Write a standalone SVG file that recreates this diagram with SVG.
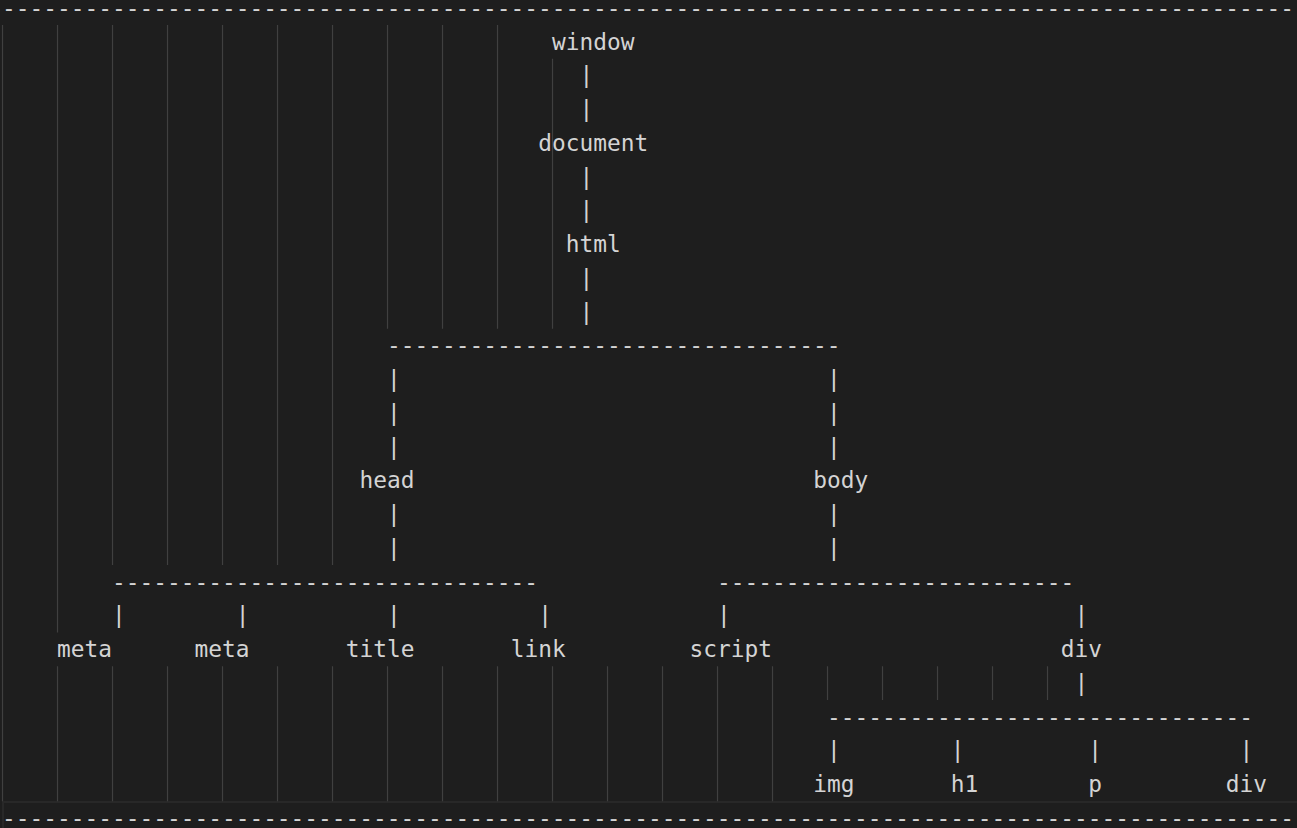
<svg xmlns="http://www.w3.org/2000/svg" width="1297" height="828" viewBox="0 0 1297 828">
<style>
text{font-family:"DejaVu Sans Mono","Liberation Mono",monospace;font-size:22.84px;fill:#d4d4d4;white-space:pre}
.g{stroke:#404040;stroke-width:1.2;fill:none}
.hl{stroke:#282828;stroke-width:2;fill:none}
</style>
<rect x="0" y="0" width="1297" height="828" fill="#1e1e1e"/>
<g id="editor">
<rect class="hl" x="3" y="802" width="1300" height="40"/>
<g id="indent-guides">
<path class="g" d="M2.5 25V801.25M57.5 25V632.5M57.5 666.25V801.25M112.5 25V565M167.5 25V565M222.5 25V565M277.5 25V565M332.5 25V565M112.5 666.25V801.25M167.5 666.25V801.25M222.5 666.25V801.25M277.5 666.25V801.25M332.5 666.25V801.25M387.5 25V328.75M442.5 25V328.75M497.5 25V328.75M387.5 666.25V801.25M442.5 666.25V801.25M497.5 666.25V801.25M552.5 58.75V328.75M552.5 666.25V801.25M607.5 666.25V801.25M662.5 666.25V801.25M717.5 666.25V801.25M772.5 666.25V801.25M827.5 666.25V700M882.5 666.25V700M937.5 666.25V700M992.5 666.25V700M1047.5 666.25V700"/>
</g>
<text x="2" y="15.75">----------------------------------------------------------------------------------------------</text>
<text x="2" y="825.75">----------------------------------------------------------------------------------------------</text>
</g>
<g id="connectors">
<text x="579.5" y="83.25">|</text>
<text x="579.5" y="117">|</text>
<text x="579.5" y="184.5">|</text>
<text x="579.5" y="218.25">|</text>
<text x="579.5" y="285.75">|</text>
<text x="579.5" y="319.5">|</text>
<text x="387" y="353.25">---------------------------------</text>
<text x="387" y="387">|</text><text x="827" y="387">|</text>
<text x="387" y="420.75">|</text><text x="827" y="420.75">|</text>
<text x="387" y="454.5">|</text><text x="827" y="454.5">|</text>
<text x="387" y="522">|</text><text x="827" y="522">|</text>
<text x="387" y="555.75">|</text><text x="827" y="555.75">|</text>
<text x="112" y="589.5">-------------------------------</text>
<text x="717" y="589.5">--------------------------</text>
<text x="112" y="623.25">|</text>
<text x="235.75" y="623.25">|</text>
<text x="387" y="623.25">|</text>
<text x="538.25" y="623.25">|</text>
<text x="717" y="623.25">|</text>
<text x="1074.5" y="623.25">|</text>
<text x="1074.5" y="690.75">|</text>
<text x="827" y="724.5">-------------------------------</text>
<text x="827" y="758.25">|</text>
<text x="950.75" y="758.25">|</text>
<text x="1088.25" y="758.25">|</text>
<text x="1239.5" y="758.25">|</text>
</g>
<g id="node-window"><text x="552" y="49.5">window</text></g>
<g id="node-document"><text x="538.25" y="150.75">document</text></g>
<g id="node-html"><text x="565.75" y="252">html</text></g>
<g id="node-head"><text x="359.5" y="488.25">head</text></g>
<g id="node-body"><text x="813.25" y="488.25">body</text></g>
<g id="node-meta-1"><text x="57" y="657">meta</text></g>
<g id="node-meta-2"><text x="194.5" y="657">meta</text></g>
<g id="node-title"><text x="345.75" y="657">title</text></g>
<g id="node-link"><text x="510.75" y="657">link</text></g>
<g id="node-script"><text x="689.5" y="657">script</text></g>
<g id="node-div-1"><text x="1060.75" y="657">div</text></g>
<g id="node-img"><text x="813.25" y="792">img</text></g>
<g id="node-h1"><text x="950.75" y="792">h1</text></g>
<g id="node-p"><text x="1088.25" y="792">p</text></g>
<g id="node-div-2"><text x="1225.75" y="792">div</text></g>
</svg>
